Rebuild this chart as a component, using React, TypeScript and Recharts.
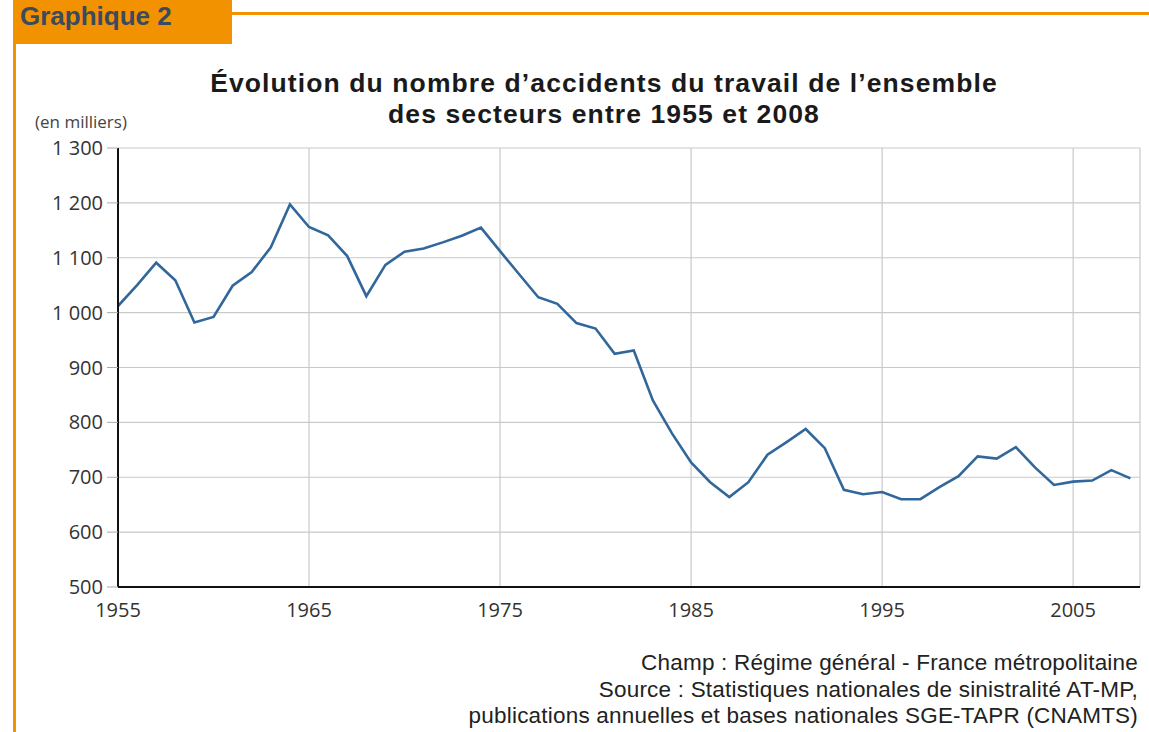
import React from "react";
import {
  LineChart,
  Line,
  XAxis,
  YAxis,
  CartesianGrid,
} from "recharts";

// Nombre d'accidents du travail (en milliers), 1955-2008
const years = [
  1955, 1956, 1957, 1958, 1959, 1960, 1961, 1962, 1963, 1964,
  1965, 1966, 1967, 1968, 1969, 1970, 1971, 1972, 1973, 1974,
  1975, 1976, 1977, 1978, 1979, 1980, 1981, 1982, 1983, 1984,
  1985, 1986, 1987, 1988, 1989, 1990, 1991, 1992, 1993, 1994,
  1995, 1996, 1997, 1998, 1999, 2000, 2001, 2002, 2003, 2004,
  2005, 2006, 2007, 2008,
];
const accidents = [
  1012, 1050, 1091, 1059, 982, 992, 1049, 1074, 1119, 1197,
  1156, 1141, 1103, 1030, 1087, 1111, 1117, 1128, 1140, 1155,
  1112, 1070, 1028, 1016, 981, 971, 925, 931, 840, 780,
  727, 691, 664, 691, 741, 764, 788, 753, 677, 669,
  673, 660, 660, 682, 702, 738, 734, 755, 718, 686,
  692, 694, 713, 698,
];

const xTicks = [1955, 1965, 1975, 1985, 1995, 2005];
const yTicks = [500, 600, 700, 800, 900, 1000, 1100, 1200, 1300];

const titleLines = [
  "Évolution du nombre d’accidents du travail de l’ensemble",
  "des secteurs entre 1955 et 2008",
];
const footerLines = [
  "Champ : Régime général - France métropolitaine",
  "Source : Statistiques nationales de sinistralité AT-MP,",
  "publications annuelles et bases nationales SGE-TAPR (CNAMTS)",
];

const data = years.map((y, i) => ({ year: y, value: accidents[i] }));

const orange = "#f39200";
const lineColor = "#31679a";
const gridColor = "#c9c9c9";
const font = "'Open Sans', 'DejaVu Sans', sans-serif";
// tighter line metrics for the stacked text blocks
const textFont = "'Liberation Sans', Arial, sans-serif";

const fmt = (v: number) =>
  v >= 1000 ? `${Math.floor(v / 1000)} ${String(v % 1000).padStart(3, "0")}` : String(v);

export default function App() {
  return (
    <div
      style={{
        position: "absolute",
        left: 0,
        top: 0,
        width: 1149,
        height: 732,
        background: "#fff",
        fontFamily: font,
        overflow: "hidden",
      }}
    >
      {/* bandeau orange */}
      <div style={{ position: "absolute", left: 13, top: 0, width: 219, height: 44, background: orange }} />
      <div style={{ position: "absolute", left: 232, top: 12, width: 917, height: 3, background: orange }} />
      <div style={{ position: "absolute", left: 13, top: 44, width: 3, height: 688, background: orange }} />
      <div
        style={{
          position: "absolute",
          left: 20,
          top: 1,
          fontFamily: textFont,
          fontSize: 26,
          fontWeight: 700,
          lineHeight: "30px",
          color: "#3b4a5e",
          whiteSpace: "nowrap",
        }}
      >
        Graphique 2
      </div>

      <div
        style={{
          position: "absolute",
          left: 0,
          top: 68,
          width: 1208,
          textAlign: "center",
          fontFamily: textFont,
          fontSize: 26.5,
          fontWeight: 700,
          letterSpacing: 1.1,
          lineHeight: "31px",
          color: "#1a1a1a",
          whiteSpace: "nowrap",
        }}
      >
        {titleLines.map((t) => (
          <div key={t}>{t}</div>
        ))}
      </div>

      <div style={{ position: "absolute", left: 35, top: 110, fontSize: 17, color: "#444" }}>
        (en milliers)
      </div>

      <div style={{ position: "absolute", left: 0, top: 0 }}>
        <LineChart
          width={1149}
          height={732}
          data={data}
          margin={{ top: 148, right: 9, bottom: 115, left: 58 }}
        >
          <CartesianGrid stroke={gridColor} strokeWidth={1.2} />
          <XAxis
            dataKey="year"
            type="number"
            domain={[1955, 2008.5]}
            ticks={xTicks}
            allowDataOverflow
            height={30}
            tickLine={false}
            axisLine={{ stroke: "#111", strokeWidth: 2 }}
            tick={{ fill: "#333", fontSize: 20, fontFamily: font }}
            tickMargin={10}
          />
          <XAxis
            xAxisId="top"
            orientation="top"
            type="number"
            domain={[1955, 2008.5]}
            height={0}
            tick={false}
            tickLine={false}
            axisLine={{ stroke: "#111", strokeWidth: 2 }}
          />
          <YAxis
            domain={[500, 1300]}
            ticks={yTicks}
            width={60}
            tickFormatter={fmt}
            tickSize={11}
            tickMargin={4}
            tickLine={{ stroke: "#aaa" }}
            axisLine={{ stroke: "#111", strokeWidth: 2 }}
            tick={{ fill: "#333", fontSize: 20, fontFamily: font }}
          />
          <YAxis
            yAxisId="right"
            orientation="right"
            domain={[500, 1300]}
            width={0}
            tick={false}
            tickLine={false}
            axisLine={{ stroke: "#111", strokeWidth: 2 }}
          />
          <Line
            type="linear"
            dataKey="value"
            stroke={lineColor}
            strokeWidth={2.6}
            dot={false}
            isAnimationActive={false}
          />
        </LineChart>
      </div>

      <div
        style={{
          position: "absolute",
          right: 11,
          top: 650,
          textAlign: "right",
          fontFamily: textFont,
          fontSize: 22.5,
          letterSpacing: 0.2,
          lineHeight: "26.5px",
          color: "#222",
          whiteSpace: "nowrap",
        }}
      >
        {footerLines.map((t) => (
          <div key={t}>{t}</div>
        ))}
      </div>
    </div>
  );
}
